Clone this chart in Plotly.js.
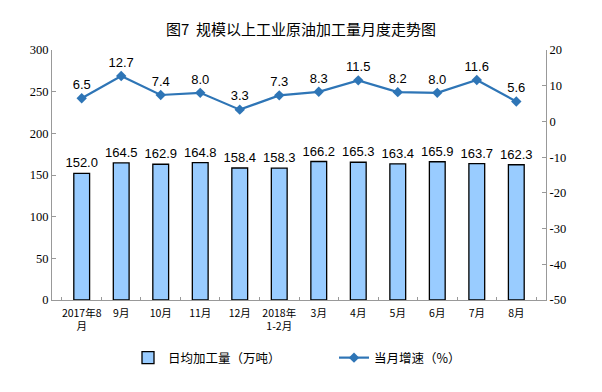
<!DOCTYPE html>
<html><head><meta charset="utf-8">
<script src="https://cdn.plot.ly/plotly-3.0.1.min.js"></script>
<style>body{margin:0;background:#fff}#c{width:602px;height:392px}</style>
</head><body><div id="c"></div>
<script>
const categories = ["2017年8<br>月","9月","10月","11月","12月","2018年<br>1-2月","3月","4月","5月","6月","7月","8月"];
const dailyOutput = [152.0,164.5,162.9,164.8,158.4,158.3,166.2,165.3,163.4,165.9,163.7,162.3];
const growth = [6.5,12.7,7.4,8.0,3.3,7.3,8.3,11.5,8.2,8.0,11.6,5.6];
const leftTicks = [0,50,100,150,200,250,300];
const rightTicks = [-50,-40,-30,-20,-10,0,10,20];

const cjk = "SimSun, Noto Sans CJK SC, sans-serif";
const serif = "Liberation Serif, serif";
const sans = "Liberation Sans, Arial, sans-serif";

const traces = [
  {type:'bar', x:categories, y:dailyOutput, name:'日均加工量（万吨）',
   marker:{color:'#99CCFF', line:{color:'#000', width:1.3}},
   text:dailyOutput.map(v=>v.toFixed(1)), textposition:'outside', constraintext:'none',
   textfont:{family:sans, size:13, color:'#000'},
   cliponaxis:false, yaxis:'y', legend:'legend'},
  {type:'scatter', mode:'lines+markers+text', x:categories, y:growth, name:'当月增速（%）',
   line:{color:'#2E75B6', width:2.2}, marker:{symbol:'diamond', size:8, color:'#2E75B6'},
   text:growth.map(v=>v.toFixed(1)), textposition:'top center',
   textfont:{family:sans, size:13, color:'#000'},
   cliponaxis:false, yaxis:'y2', legend:'legend2'}
];

const layout = {
  width:602, height:392,
  margin:{l:52, r:56, t:50, b:92, autoexpand:false},
  paper_bgcolor:'#fff', plot_bgcolor:'#fff',
  title:{text:'图7  规模以上工业原油加工量月度走势图', x:0.5, xanchor:'center', y:0.925, yanchor:'middle',
         font:{family:"Noto Sans CJK SC, sans-serif", size:15, color:'#000'}},
  bargap:0.6,
  showlegend:true,
  legend:{orientation:'h', x:(128-52)/494, xanchor:'left', y:(300-358)/250, yanchor:'middle',
          font:{family:cjk, size:12.5, color:'#000'}, bgcolor:'rgba(0,0,0,0)'},
  legend2:{orientation:'h', x:(334-52)/494, xanchor:'left', y:(300-358)/250, yanchor:'middle',
          font:{family:cjk, size:12.5, color:'#000'}, bgcolor:'rgba(0,0,0,0)'},
  xaxis:{type:'category', showline:true, linecolor:'#999', linewidth:1, tickangle:0, automargin:false,
         ticks:'inside', ticklen:3, tickcolor:'#999', tickson:'boundaries', ticklabelstandoff:3,
         tickfont:{family:cjk, size:10.5, color:'#000'}, showgrid:false},
  yaxis:{range:[0,300], tickvals:leftTicks, ticktext:leftTicks.map(String), showline:true, linecolor:'#999', linewidth:1,
         ticks:'inside', ticklen:4, tickcolor:'#999', showgrid:false, zeroline:false, automargin:false,
         tickfont:{family:serif, size:12.5, color:'#000'}},
  yaxis2:{range:[-50,20], tickvals:rightTicks, ticktext:rightTicks.map(String), overlaying:'y', side:'right', showline:true, linecolor:'#999',
          linewidth:1, ticks:'inside', ticklen:4, tickcolor:'#999', showgrid:false, zeroline:false, automargin:false,
          tickfont:{family:serif, size:12.5, color:'#000'}}
};
Plotly.newPlot('c', traces, layout, {displayModeBar:false, staticPlot:true});
</script></body></html>
